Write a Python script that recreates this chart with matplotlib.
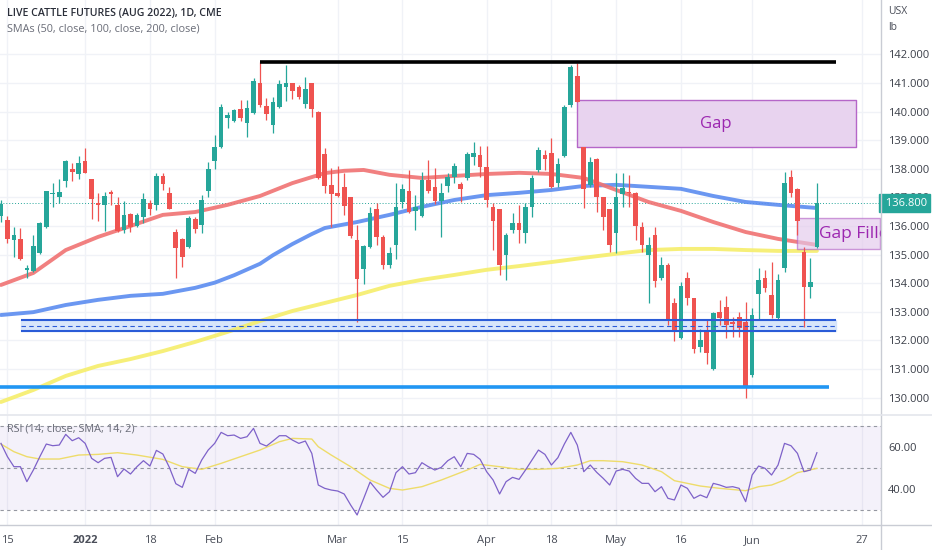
import matplotlib.pyplot as plt
import numpy as np

plt.rcParams['font.family'] = ['Open Sans', 'DejaVu Sans']

# daily OHLC, Dec 14 2021 .. Jun 15 2022 (bar index 0..126)
opens = [136.35, 136.21, 135.51, 135.55, 134.47, 134.43, 135.06, 135.97, 137.12, 137.01,
         137.58, 137.99, 137.82, 138.27, 137.65, 136.81, 136.74, 137.19, 136.74, 135.86,
         136.42, 136.00, 136.32, 136.81, 136.74, 137.75, 137.16, 135.79, 135.55, 135.27,
         136.25, 136.04, 137.23, 138.27, 138.76, 139.77, 139.67, 140.09, 139.60, 139.95,
         141.00, 140.19, 139.53, 140.16, 140.86, 141.00, 140.86, 140.26, 141.00, 139.98,
         138.52, 137.44, 137.16, 137.37, 137.01, 135.51, 134.50, 135.27, 136.60, 135.62,
         134.64, 135.34, 136.84, 137.23, 136.53, 136.35, 137.61, 137.37, 136.88, 137.40,
         137.72, 137.47, 137.68, 138.41, 138.48, 138.06, 136.67, 136.60, 134.99, 135.86,
         136.11, 135.76, 136.67, 137.96, 138.48, 138.55, 137.51, 138.45, 140.23, 141.24,
         138.76, 137.44, 138.34, 137.01, 136.60, 135.76, 137.12, 137.19, 137.16, 135.97,
         134.99, 135.69, 134.19, 134.64, 133.31, 132.09, 134.19, 133.49, 131.77, 132.37,
         131.00, 132.99, 133.17, 132.65, 132.82, 132.65, 130.80, 133.63, 134.19, 133.59,
         132.79, 134.54, 137.72, 137.30, 135.09, 133.87, 135.27]
highs = [136.91, 136.35, 135.97, 135.93, 134.64, 135.69, 136.14, 137.23, 137.51, 137.65,
         138.31, 138.20, 138.45, 138.72, 137.65, 137.16, 137.19, 137.26, 137.01, 136.88,
         136.46, 136.46, 137.16, 136.91, 137.86, 137.86, 137.37, 135.90, 135.58, 136.35,
         136.32, 137.08, 138.24, 139.18, 140.26, 139.98, 140.09, 140.40, 140.40, 141.17,
         141.73, 140.47, 140.51, 141.10, 141.63, 141.00, 140.93, 141.21, 141.00, 140.02,
         138.73, 138.03, 138.10, 137.86, 137.01, 136.04, 135.34, 136.67, 136.81, 135.69,
         135.27, 137.51, 137.47, 137.96, 137.08, 137.89, 138.31, 138.03, 137.51, 137.86,
         138.20, 137.54, 138.59, 138.94, 138.80, 138.80, 136.81, 136.60, 135.76, 136.46,
         136.74, 136.81, 137.79, 138.76, 138.66, 139.07, 138.38, 140.23, 141.63, 141.70,
         138.76, 138.41, 138.38, 137.01, 136.60, 137.86, 137.86, 137.79, 137.19, 136.14,
         135.62, 135.97, 134.92, 134.71, 133.49, 134.05, 134.40, 133.49, 132.40, 132.72,
         132.99, 133.42, 133.56, 132.82, 132.99, 133.35, 133.14, 134.54, 134.47, 134.74,
         134.33, 137.89, 137.96, 137.33, 135.27, 134.89, 137.51]
lows = [136.14, 135.41, 134.92, 134.82, 134.19, 134.40, 135.03, 135.93, 136.67, 136.81,
        137.37, 137.58, 137.65, 137.86, 136.25, 136.18, 135.83, 136.74, 135.79, 135.76,
        135.79, 135.97, 136.11, 136.39, 136.56, 137.26, 136.60, 134.19, 134.57, 135.23,
        135.76, 135.76, 137.01, 137.99, 138.72, 139.42, 139.64, 139.67, 139.11, 139.91,
        140.16, 139.70, 139.25, 140.12, 140.37, 140.44, 140.44, 140.12, 139.81, 137.65,
        137.16, 135.97, 137.01, 136.39, 135.58, 132.65, 133.98, 135.23, 135.34, 134.50,
        134.54, 134.85, 136.63, 136.46, 135.86, 136.32, 137.16, 136.77, 135.62, 137.19,
        137.51, 136.84, 137.61, 138.13, 137.72, 136.67, 135.16, 134.29, 134.12, 135.76,
        135.41, 135.41, 136.32, 137.89, 137.96, 137.33, 137.37, 138.41, 140.16, 140.33,
        136.63, 137.37, 136.49, 135.86, 135.09, 135.06, 136.67, 136.67, 135.51, 135.09,
        133.31, 133.87, 134.12, 132.54, 131.98, 132.05, 133.24, 131.56, 131.60, 131.18,
        130.97, 132.54, 132.09, 132.12, 132.12, 129.99, 130.73, 132.72, 133.70, 132.79,
        132.75, 134.40, 137.01, 135.69, 132.47, 133.49, 135.23]
closes = [136.77, 135.55, 135.69, 134.85, 134.54, 135.30, 136.11, 137.23, 137.16, 137.19,
          138.27, 137.89, 138.20, 137.86, 136.94, 136.74, 137.05, 137.12, 135.83, 136.39,
          135.97, 136.39, 136.94, 136.60, 137.75, 137.47, 136.60, 135.23, 134.92, 136.28,
          135.90, 136.91, 137.99, 138.76, 140.16, 139.88, 140.05, 139.77, 140.12, 141.07,
          140.23, 139.91, 140.33, 140.97, 141.00, 140.72, 140.51, 140.79, 140.09, 137.68,
          137.40, 137.12, 137.05, 136.70, 135.65, 134.15, 135.30, 136.46, 135.62, 134.64,
          135.06, 136.67, 137.30, 136.49, 136.67, 137.61, 137.23, 136.88, 137.16, 137.72,
          138.10, 137.30, 138.52, 138.55, 138.06, 136.91, 136.18, 134.64, 135.69, 136.11,
          135.86, 136.67, 137.68, 138.66, 138.34, 137.37, 138.17, 140.16, 141.56, 140.33,
          137.30, 138.24, 137.01, 136.32, 135.34, 137.01, 137.33, 137.16, 136.00, 135.34,
          135.34, 134.08, 134.64, 132.75, 132.37, 133.91, 133.49, 131.70, 132.02, 131.56,
          132.96, 132.79, 132.54, 132.58, 132.44, 130.38, 132.89, 134.12, 133.84, 132.89,
          134.12, 137.51, 137.16, 136.18, 133.87, 134.05, 136.80]

# moving averages at selected bars
sma50_idx = [0, 5, 10, 15, 20, 25, 30, 35, 40, 45, 50, 53, 56, 60, 65, 70, 75, 80, 85, 90,
             95, 100, 105, 110, 115, 120, 126]
sma50 = [133.94, 134.36, 135.16, 135.62, 136.00, 136.39, 136.49, 136.74, 137.05, 137.50,
         137.85, 137.93, 137.96, 137.79, 137.68, 137.75, 137.82, 137.86, 137.82, 137.68,
         137.26, 136.84, 136.53, 136.14, 135.79, 135.55, 135.34]
sma100_idx = [0, 5, 10, 15, 20, 25, 30, 33, 36, 40, 42, 45, 48, 50, 55, 60, 65, 70, 75, 80,
              85, 90, 95, 100, 105, 110, 115, 120, 126]
sma100 = [132.89, 132.99, 133.24, 133.42, 133.56, 133.63, 133.84, 134.02, 134.28, 134.68,
          134.98, 135.37, 135.72, 135.93, 136.14, 136.39, 136.67, 136.91, 137.08, 137.16,
          137.26, 137.40, 137.44, 137.37, 137.30, 137.05, 136.84, 136.74, 136.63]
sma200_idx = [0, 5, 10, 15, 20, 25, 30, 35, 40, 45, 50, 55, 60, 65, 70, 75, 80, 85, 90, 95,
              100, 105, 110, 115, 120, 126]
sma200 = [129.85, 130.27, 130.76, 131.11, 131.35, 131.63, 131.95, 132.30, 132.68, 133.03,
          133.31, 133.59, 133.91, 134.12, 134.29, 134.47, 134.60, 134.74, 134.89, 135.03,
          135.16, 135.20, 135.20, 135.16, 135.13, 135.13]

rsi = [61.88, 55.49, 50.69, 50.69, 43.50, 49.09, 55.49, 61.56, 60.76, 61.08,
       66.20, 63.16, 64.60, 61.88, 54.69, 52.61, 54.69, 55.17, 45.89, 49.57,
       47.17, 50.69, 53.57, 51.01, 58.52, 56.77, 50.37, 42.53, 40.77, 49.41,
       47.49, 53.89, 58.68, 61.88, 67.16, 65.56, 65.88, 64.28, 65.08, 69.08,
       61.88, 60.60, 63.00, 65.56, 65.56, 63.48, 61.88, 63.00, 57.08, 41.89,
       40.29, 39.49, 39.01, 37.58, 32.30, 27.50, 35.34, 43.33, 39.49, 35.98,
       38.69, 47.81, 50.69, 47.17, 47.81, 52.61, 50.69, 49.09, 50.37, 53.57,
       55.49, 50.69, 57.08, 56.60, 54.20, 48.29, 44.29, 37.58, 43.50, 45.57,
       44.61, 49.09, 53.89, 58.68, 56.60, 51.49, 55.01, 61.56, 67.16, 61.08,
       48.29, 51.49, 47.97, 45.09, 41.89, 48.61, 49.41, 48.61, 45.09, 42.69,
       42.69, 38.69, 41.09, 35.50, 34.70, 41.89, 40.29, 35.50, 37.10, 35.81,
       42.69, 41.89, 40.77, 41.09, 40.29, 33.90, 46.69, 51.01, 49.89, 46.69,
       51.49, 61.88, 60.76, 57.08, 48.29, 49.09, 57.40]
rsi_ma_idx = [0, 2, 4, 6, 9, 12, 15, 18, 21, 25, 28, 31, 34, 37, 40, 43, 45, 48, 49, 51,
              54, 57, 60, 62, 65, 68, 72, 74, 77, 80, 83, 86, 89, 91, 93, 96, 99, 102,
              104, 108, 111, 115, 117, 119, 121, 123, 126]
rsi_ma = [61.56, 57.88, 55.49, 54.37, 54.37, 56.28, 56.60, 57.40, 56.28, 54.20, 50.69,
          49.41, 52.29, 55.49, 58.68, 62.68, 64.28, 63.96, 60.28, 56.28, 50.69, 44.29,
          40.29, 39.49, 41.09, 44.29, 49.09, 51.81, 50.69, 49.41, 49.41, 49.89, 51.49,
          53.57, 53.57, 53.09, 51.49, 48.29, 43.97, 41.41, 40.29, 39.17, 41.09, 41.89,
          44.29, 47.81, 49.89]

date_pos = [1, 13, 23, 33, 52, 62, 75, 85, 95, 105, 116, 133]
date_labels = ['15', '2022', '18', 'Feb', 'Mar', '15', 'Apr', '18', 'May', '16', 'Jun', '27']
price_ticks = [130, 131, 132, 133, 134, 135, 136, 137, 138, 139, 140, 141, 142]

# drawn levels
resistance = 141.73
zone_low, zone_mid, zone_high = 132.33, 132.51, 132.72
support = 130.38
gap_low, gap_high = 138.76, 140.40
filled_low, filled_high = 135.20, 136.28

UP, DOWN = '#26a69a', '#ef5350'
GRID = '#f0f2f7'

o = np.array(opens); h = np.array(highs); l = np.array(lows); c = np.array(closes)
x = np.arange(len(c))
cols = np.where(c >= o, UP, DOWN)

fig = plt.figure(figsize=(9.32, 5.5), dpi=100)
ax = fig.add_axes([0, 136 / 550, 881 / 932, 414 / 550])
ax2 = fig.add_axes([0, 25 / 550, 881 / 932, 110 / 550])

xlim = (-0.15, 135.9)

# ---- price panel
ax.set_xlim(*xlim)
ax.set_ylim(129.43, 143.90)
for p in price_ticks:
    ax.axhline(p, color=GRID, lw=1, zorder=0)
for d in date_pos:
    ax.axvline(d, color=GRID, lw=1, zorder=0)

ax.plot(sma200_idx, sma200, color='#f6ee6a', lw=2.8, alpha=0.9, zorder=2, solid_capstyle='round')
ax.plot(sma100_idx, sma100, color='#5b8cf0', lw=2.8, alpha=0.9, zorder=2, solid_capstyle='round')
ax.plot(sma50_idx, sma50, color='#f07272', lw=2.8, alpha=0.9, zorder=2, solid_capstyle='round')

ax.vlines(x, l, h, color=cols, lw=0.9, zorder=4)
ax.bar(x, np.maximum(np.abs(c - o), 0.04), bottom=np.minimum(o, c), width=0.72,
       color=cols, zorder=5)

# resistance line
ax.hlines(resistance, 40.0, 128.9, color='black', lw=2.6, zorder=6)
# support zone
ax.fill_between([3.1, 128.9], zone_low, zone_high, color='#cfe0fa', alpha=0.8, zorder=1)
ax.hlines([zone_low, zone_high], 3.1, 128.9, color='#2a5bd7', lw=1.5, zorder=6)
ax.hlines(zone_mid, 3.1, 128.9, color='#2a5bd7', lw=0.8, linestyles=(0, (4, 3)), zorder=6)
# lower support
ax.hlines(support, xlim[0], 127.9, color='#2196f3', lw=2.6, zorder=6)

# gap boxes
ax.fill_between([88.9, 132.0], gap_low, gap_high, facecolor='#e8d3ef', edgecolor='#b566c8',
                lw=1, zorder=3)
ax.text(110.4, (gap_low + gap_high) / 2, 'Gap', color='#9c27b0', fontsize=12,
        ha='center', va='center', zorder=7)
ax.fill_between([122.9, 135.75], filled_low, filled_high, facecolor='#e3c9ec',
                edgecolor='#b566c8', lw=1, alpha=0.65, zorder=3)
ax.text(126.3, (filled_low + filled_high) / 2 - 0.02, 'Gap Filled', color='#9c27b0',
        fontsize=12.5, ha='left', va='center', zorder=7, clip_on=True)

# last price
last = closes[-1]
ax.axhline(last, color=UP, lw=0.7, ls=(0, (1, 2)), zorder=1)

ax.yaxis.tick_right()
ax.set_yticks(price_ticks)
ax.set_yticklabels(['%.3f' % p for p in price_ticks])
ax.tick_params(axis='y', length=0, pad=5, labelsize=8, labelcolor='#3a3e48')
ax.set_xticks([])
for s in ax.spines.values():
    s.set_visible(False)

ax.text(1.002, last, ' %.3f' % last, transform=ax.get_yaxis_transform(), color='white',
        fontsize=8, va='center', ha='left', zorder=10, clip_on=False,
        bbox=dict(boxstyle='square,pad=0.3', fc=UP, ec=UP))

ax.text(7 / 881, 1 - 14 / 414, 'LIVE CATTLE FUTURES (AUG 2022), 1D, CME', transform=ax.transAxes,
        fontsize=7.6, color='#2a2e39', va='center', ha='left', fontweight='semibold')
ax.text(7 / 881, 1 - 29 / 414, 'SMAs (50, close, 100, close, 200, close)', transform=ax.transAxes,
        fontsize=7.8, color='#6a6d78', va='center', ha='left')

# ---- RSI panel
ax2.set_xlim(*xlim)
ax2.set_ylim(22.7, 75.5)
for d in date_pos:
    ax2.axvline(d, color=GRID, lw=1, zorder=0)
ax2.axhspan(30, 70, color='#7e57c2', alpha=0.08, lw=0, zorder=0)
for lvl in (30, 50, 70):
    ax2.axhline(lvl, color='#9598a1', lw=0.8, ls=(0, (3, 3)), zorder=1)
ax2.plot(rsi_ma_idx, rsi_ma, color='#eedc6a', lw=1.0, zorder=2)
ax2.plot(x, rsi, color='#7e62c9', lw=0.9, zorder=3)
ax2.text(7 / 881, 1 - 14 / 110, 'RSI (14, close, SMA, 14, 2)', transform=ax2.transAxes,
         fontsize=7.8, color='#6a6d78', va='center', ha='left')

ax2.yaxis.tick_right()
ax2.set_yticks([40, 60])
ax2.set_yticklabels(['40.00', '60.00'])
ax2.tick_params(axis='y', length=0, pad=5, labelsize=8, labelcolor='#3a3e48')
ax2.set_xticks(date_pos)
ax2.set_xticklabels(date_labels)
ax2.tick_params(axis='x', length=0, pad=7, labelsize=8, labelcolor='#4a4e59')
for lab in ax2.get_xticklabels():
    if lab.get_text() == '2022':
        lab.set_fontweight('bold')
for s in ax2.spines.values():
    s.set_visible(False)

# panel frame lines
fig.add_artist(plt.Line2D([881 / 932, 881 / 932], [0, 1], color='#c9ccd4', lw=1))
fig.add_artist(plt.Line2D([0, 1], [25 / 550, 25 / 550], color='#c9ccd4', lw=1))
fig.add_artist(plt.Line2D([0, 1], [135.5 / 550, 135.5 / 550], color='#e4e6ec', lw=1.2))
fig.text(888 / 932, 1 - 12 / 550, 'USX', fontsize=7.5, color='#4a4e59', va='center')
fig.text(888 / 932, 1 - 28 / 550, 'lb', fontsize=7.5, color='#4a4e59', va='center')

fig.savefig('out.png', dpi=100)
